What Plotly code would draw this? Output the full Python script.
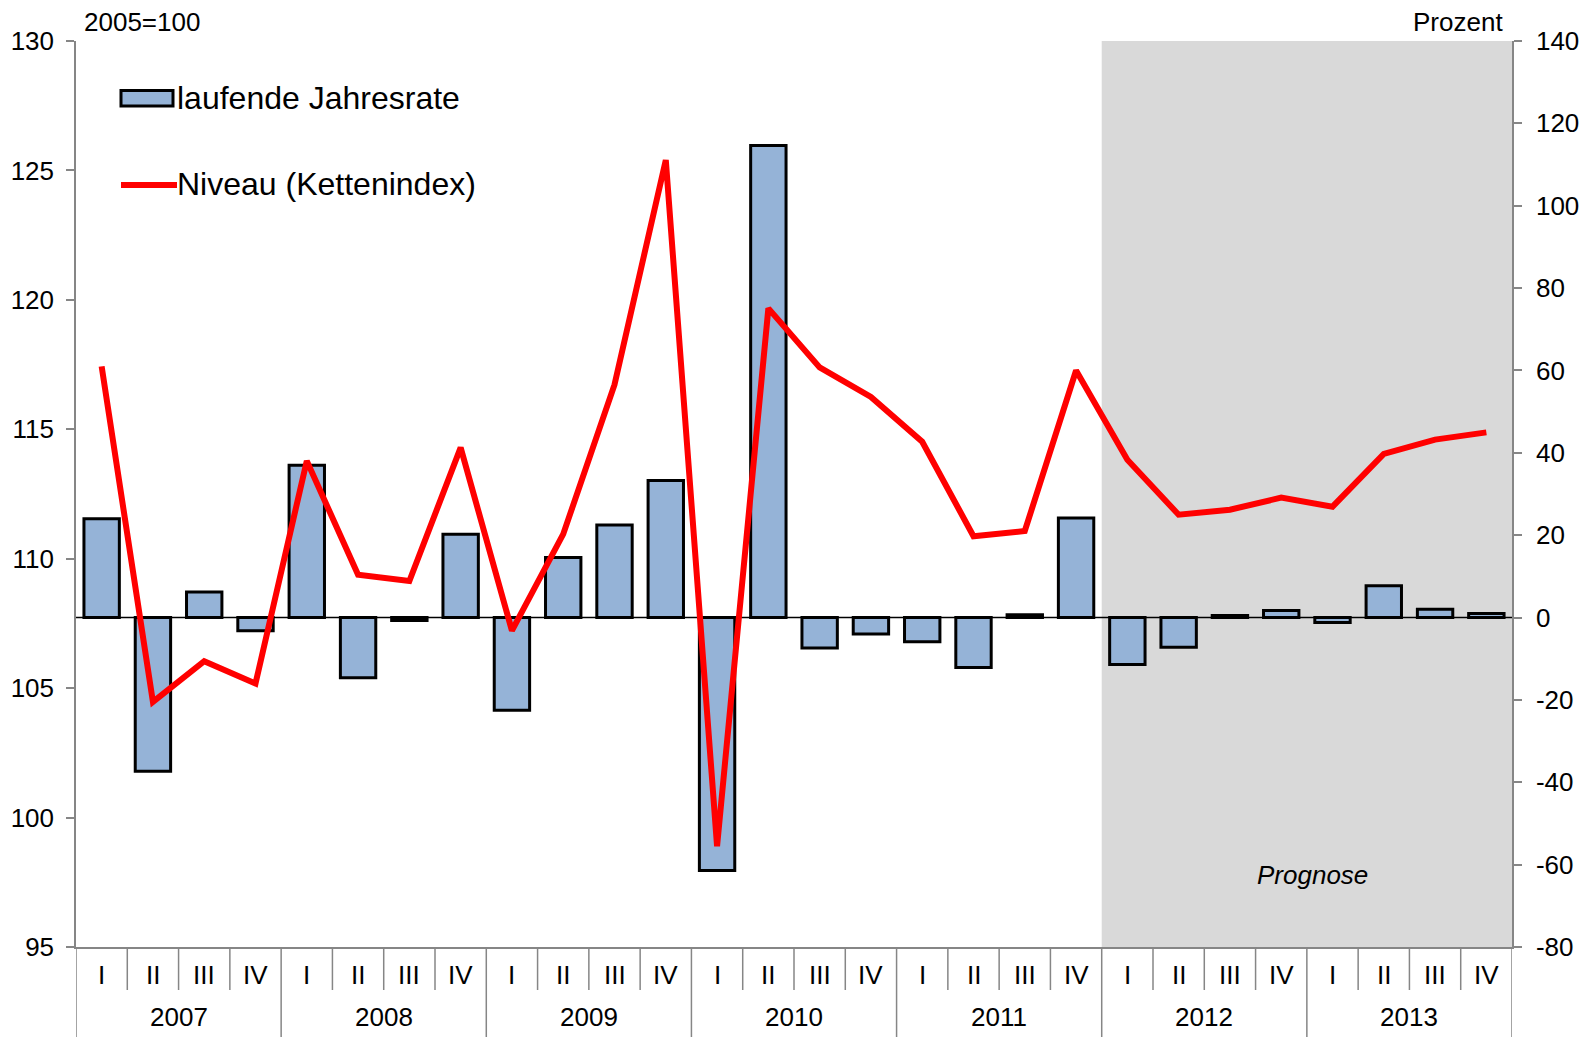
import plotly.graph_objects as go

# ---- data ----
years = ["2007", "2008", "2009", "2010", "2011", "2012", "2013"]
quarters = ["I", "II", "III", "IV"]
rate = [24.0, -37.3, 6.2, -3.2,
        37.0, -14.6, -0.7, 20.2,
        -22.5, 14.6, 22.5, 33.3,
        -61.4, 114.6, -7.4, -4.0,
        -5.9, -12.1, 0.7, 24.2,
        -11.4, -7.2, 0.5, 1.7,
        -1.2, 7.7, 2.0, 1.0]
niveau = [117.43, 104.47, 106.04, 105.18,
          113.78, 109.38, 109.14, 114.29,
          107.22, 110.95, 116.72, 125.40,
          98.89, 119.67, 117.39, 116.25,
          114.52, 110.87, 111.07, 117.27,
          113.82, 111.70, 111.89, 112.36,
          112.01, 114.05, 114.60, 114.88]
forecast_start_year = "2012"
right_ticks = [-80, -60, -40, -20, 0, 20, 40, 60, 80, 100, 120, 140]
left_ticks = [95, 100, 105, 110, 115, 120, 125, 130]

FONT = "Arial, Liberation Sans, sans-serif"
GRAY = "#868686"
TF = 26

labels_q = [q for y in years for q in quarters]
x = list(range(len(labels_q)))

W, H = 1595, 1037
L, R, T, B = 76, 83, 41, 90
pw, ph = W - L - R, H - T - B


def px(xp):
    return (xp - L) / pw


def py(yp):
    return (H - B - yp) / ph


fig = go.Figure()
fig.add_trace(go.Bar(x=x, y=rate, yaxis="y", width=0.69,
                     marker=dict(color="#95B3D7", line=dict(color="black", width=3)),
                     name="laufende Jahresrate", showlegend=False))
fig.add_trace(go.Scatter(x=x, y=niveau, yaxis="y2", mode="lines",
                         line=dict(color="#FF0000", width=6),
                         name="Niveau (Kettenindex)", showlegend=False))

shapes = []
fs = years.index(forecast_start_year) * 4 - 0.5
shapes.append(dict(type="rect", xref="x", yref="paper", x0=fs, x1=len(x) - 0.5, y0=0, y1=1,
                   fillcolor="#D9D9D9", line=dict(width=0), layer="below"))
shapes.append(dict(type="line", xref="paper", yref="y", x0=0, x1=1, y0=0, y1=0,
                   line=dict(color="black", width=1.5), layer="below"))
# category separators
for i in range(len(x) + 1):
    is_year = (i % 4 == 0)
    shapes.append(dict(type="line", xref="x", yref="paper", x0=i - 0.5, x1=i - 0.5,
                       y0=0, y1=py(1037) if is_year else py(990),
                       line=dict(color=GRAY, width=1.5)))

annotations = []
for i, q in enumerate(labels_q):
    annotations.append(dict(x=i, y=py(975), xref="x", yref="paper", text=q, showarrow=False,
                            xanchor="center", yanchor="middle",
                            font=dict(size=TF, color="black", family=FONT)))
for j, yv in enumerate(years):
    annotations.append(dict(x=j * 4 + 1.5, y=py(1017), xref="x", yref="paper", text=yv,
                            xanchor="center", yanchor="middle",
                            showarrow=False, font=dict(size=TF, color="black", family=FONT)))

# legend (manual)
shapes.append(dict(type="rect", xref="paper", yref="paper", x0=px(121), x1=px(173),
                   y0=py(106), y1=py(90.5), fillcolor="#95B3D7",
                   line=dict(color="black", width=3)))
shapes.append(dict(type="line", xref="paper", yref="paper", x0=px(121), x1=px(177),
                   y0=py(185), y1=py(185), line=dict(color="#FF0000", width=6)))
annotations.append(dict(x=px(175), y=py(98), xref="paper", yref="paper", text="laufende Jahresrate",
                        xanchor="left", yanchor="middle", showarrow=False,
                        font=dict(size=32, color="black", family=FONT)))
annotations.append(dict(x=px(175), y=py(184), xref="paper", yref="paper", text="Niveau (Kettenindex)",
                        xanchor="left", yanchor="middle", showarrow=False,
                        font=dict(size=32, color="black", family=FONT)))

annotations.append(dict(x=px(82), y=py(22), xref="paper", yref="paper", text="2005=100",
                        xanchor="left", yanchor="middle", showarrow=False,
                        font=dict(size=TF, color="black", family=FONT)))
annotations.append(dict(x=px(1505), y=py(22), xref="paper", yref="paper", text="Prozent",
                        xanchor="right", yanchor="middle", showarrow=False,
                        font=dict(size=TF, color="black", family=FONT)))
annotations.append(dict(x=px(1312), y=py(875), xref="paper", yref="paper", text="<i>Prognose</i>",
                        xanchor="center", yanchor="middle", showarrow=False,
                        font=dict(size=TF, color="black", family=FONT)))

fig.update_layout(
    width=W, height=H,
    margin=dict(l=L, r=R, t=T, b=B, pad=0),
    paper_bgcolor="white", plot_bgcolor="white",
    font=dict(family=FONT, size=TF, color="black"),
    showlegend=False,
    xaxis=dict(range=[-0.5, len(x) - 0.5], showticklabels=False, ticks="", showgrid=False,
               zeroline=False, showline=True, linecolor=GRAY, linewidth=1.5, automargin=False),
    yaxis=dict(side="right", range=[-80, 140], tickmode="array", tickvals=right_ticks,
               ticktext=[str(v) for v in right_ticks], showgrid=False, zeroline=False,
               showline=True, linecolor=GRAY, linewidth=1.5, ticks="outside", ticklen=8,
               tickcolor=GRAY, tickwidth=1.5, ticklabelstandoff=9, automargin=False,
               tickfont=dict(size=TF, color="black", family=FONT)),
    yaxis2=dict(side="left", overlaying="y", range=[95, 130], tickmode="array", tickvals=left_ticks,
                ticktext=[str(v) for v in left_ticks], showgrid=False,
                zeroline=False, showline=True, linecolor=GRAY, linewidth=1.5, ticks="outside",
                ticklen=8, tickcolor=GRAY, tickwidth=1.5, ticklabelstandoff=7, automargin=False,
                tickfont=dict(size=TF, color="black", family=FONT)),
    shapes=shapes,
    annotations=annotations,
)

fig.write_html("out.html", config={"displayModeBar": False},
               post_script="document.body.style.margin='0';document.body.style.overflow='hidden';")
